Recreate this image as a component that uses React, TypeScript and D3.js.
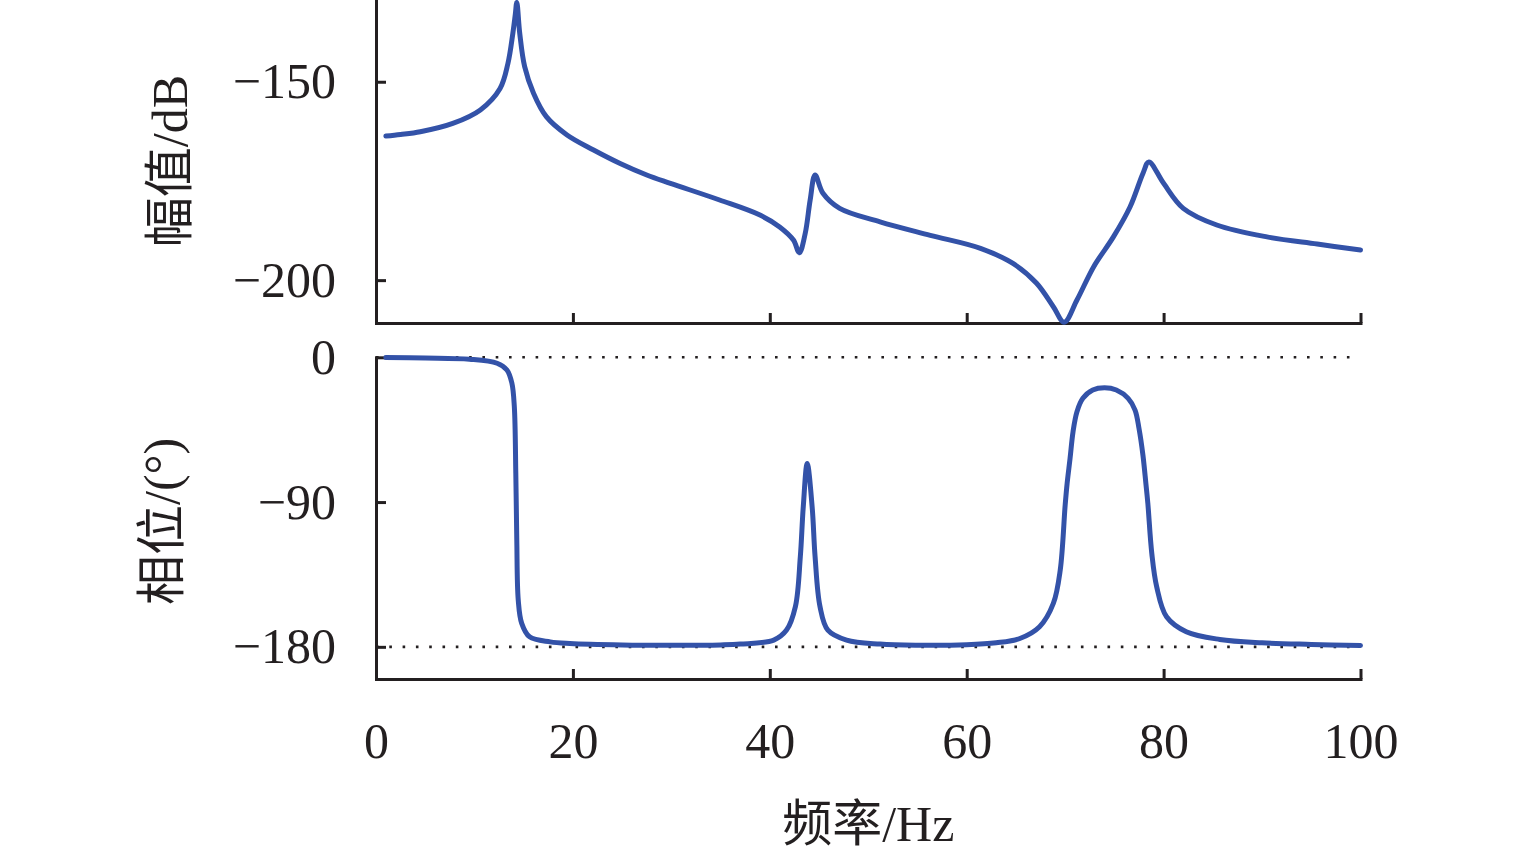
import React, { useEffect, useRef } from "react";
import * as d3 from "d3";

// Frequency axis
const xTicks = [0, 20, 40, 60, 80, 100];

// Magnitude response (top panel)
const magFreq = [1.0, 2.5, 4.5, 7.8, 10.6, 12.6, 13.4, 13.9, 14.15, 14.3, 14.6, 15.1, 16.0, 17.3, 19.4, 22.1, 24.8, 27.5, 29.9, 34.9, 39.0, 41.0, 42.4, 43.0, 43.6, 44.1, 44.6, 45.4, 47.1, 51.2, 56.3, 61.4, 64.7, 67.1, 68.8, 69.9, 71.2, 72.9, 74.9, 76.6, 77.9, 78.5, 80.0, 82.0, 85.4, 90.5, 95.6, 100];
const magDb = [-163.7, -163.3, -162.6, -160.5, -157.1, -151.7, -145.4, -137.8, -133.0, -130.0, -137.8, -146.2, -152.9, -158.8, -163.4, -167.2, -170.6, -173.5, -175.6, -179.8, -183.6, -186.6, -189.9, -193.1, -188.2, -179.8, -173.5, -178.1, -181.9, -185.3, -188.7, -192.0, -195.8, -200.8, -206.7, -210.6, -205.0, -196.6, -189.1, -181.5, -173.1, -170.2, -175.6, -181.9, -186.1, -189.1, -190.9, -192.4];
const magTicks = [-150, -200];

// Phase response (bottom panel)
const phaseFreq = [1.0, 5, 9.5, 12.3, 13.3, 13.8, 14.05, 14.2, 14.3, 14.45, 14.8, 15.6, 17.7, 19.7, 25, 30, 35, 37, 40.4, 41.7, 42.6, 43.1, 43.4, 43.8, 44.3, 44.6, 45.1, 45.9, 47.8, 51.2, 55, 60, 63, 65.4, 67.4, 68.8, 69.5, 70.0, 70.2, 70.5, 70.8, 71.2, 71.8, 72.8, 74.0, 75.2, 76.4, 77.1, 77.5, 77.9, 78.2, 78.4, 78.8, 79.3, 80.3, 82.3, 85.7, 90, 95, 100];
const phaseDeg = [-0.2, -0.5, -1.2, -3.7, -7.9, -16, -30.7, -72, -113.6, -151, -165.4, -173.8, -176.9, -177.9, -178.8, -179.0, -178.8, -178.3, -175.8, -169.6, -155, -124, -92.9, -66, -92.9, -124, -155, -169.6, -175.8, -178.3, -179.0, -178.7, -177.5, -174.8, -167.5, -153, -132.3, -92, -78.4, -62.8, -46.3, -33.8, -25.5, -20.3, -18.9, -20.3, -25.5, -32.8, -44.2, -60.8, -78.4, -90.8, -121.9, -142.7, -161.3, -170.6, -175.4, -177.5, -178.5, -179.2];
const phaseTicks = [0, -90, -180];
const phaseRefLines = [0, -180];

const labels = { mag: "幅值/dB", phase: "相位/(°)", freq: "频率/Hz" };

const W = 1535;
const H = 858;
const AXIS = "#231f20";
const LINE = "#3352a8";
const FONT = "'Liberation Serif', 'Times New Roman', 'Noto Sans CJK SC', serif";

export default function App() {
  const ref = useRef<SVGSVGElement | null>(null);

  useEffect(() => {
    const svg = d3.select(ref.current);
    svg.selectAll("*").remove();

    const x = d3.scaleLinear().domain([0, 100]).range([376, 1360.5]);
    const yMag = d3.scaleLinear().domain([-210.8, -129.4]).range([323, 0]);
    const yPh = d3.scaleLinear().domain([-200, 0]).range([679, 357.3]);

    const styleAxis = (g: any) => {
      g.attr("font-family", FONT).attr("font-size", 50);
      g.select(".domain").attr("stroke", AXIS).attr("stroke-width", 3).attr("stroke-linecap", "square");
      g.selectAll(".tick line").attr("stroke", AXIS).attr("stroke-width", 3);
      g.selectAll(".tick text").attr("fill", AXIS);
    };

    // Top panel axes
    const topLeft = svg.append("g").attr("transform", `translate(${x(0)},0)`)
      .call(d3.axisLeft(yMag).tickValues(magTicks).tickSizeInner(-10).tickSizeOuter(0).tickPadding(40));
    styleAxis(topLeft);
    const topBottom = svg.append("g").attr("transform", `translate(0,${yMag(-210.8)})`)
      .call(d3.axisBottom(x).tickValues(xTicks).tickSizeInner(-10).tickSizeOuter(0).tickFormat(() => ""));
    styleAxis(topBottom);

    // Bottom panel dotted reference lines
    svg.append("g").selectAll("line").data(phaseRefLines).join("line")
      .attr("x1", x(0)).attr("x2", x(99.5))
      .attr("y1", (d) => yPh(d)).attr("y2", (d) => yPh(d))
      .attr("stroke", AXIS).attr("stroke-width", 2.6).attr("stroke-dasharray", "2.6 10.7");

    // Bottom panel axes
    const botLeft = svg.append("g").attr("transform", `translate(${x(0)},0)`)
      .call(d3.axisLeft(yPh).tickValues(phaseTicks).tickSizeInner(-10).tickSizeOuter(0).tickPadding(40));
    styleAxis(botLeft);
    const botBottom = svg.append("g").attr("transform", `translate(0,${yPh(-200)})`)
      .call(d3.axisBottom(x).tickValues(xTicks).tickSizeInner(-10).tickSizeOuter(0).tickPadding(43));
    styleAxis(botBottom);

    // Curves
    const magData = magFreq.map((f, i) => [f, magDb[i]] as [number, number]);
    const phData = phaseFreq.map((f, i) => [f, phaseDeg[i]] as [number, number]);
    const curve = d3.curveCatmullRom.alpha(0.5);
    const magLine = d3.line<[number, number]>().x((d) => x(d[0])).y((d) => yMag(d[1])).curve(curve);
    const phLine = d3.line<[number, number]>().x((d) => x(d[0])).y((d) => yPh(d[1])).curve(curve);

    svg.append("path").datum(magData).attr("d", magLine as any)
      .attr("fill", "none").attr("stroke", LINE).attr("stroke-width", 5)
      .attr("stroke-linecap", "round").attr("stroke-linejoin", "round");
    svg.append("path").datum(phData).attr("d", phLine as any)
      .attr("fill", "none").attr("stroke", LINE).attr("stroke-width", 5)
      .attr("stroke-linecap", "round").attr("stroke-linejoin", "round");

    // Axis titles
    svg.append("text").text(labels.mag)
      .attr("transform", `translate(170,${yMag(-170)}) rotate(-90)`)
      .attr("text-anchor", "middle").attr("dominant-baseline", "central")
      .attr("font-family", FONT).attr("font-size", 50).attr("fill", AXIS);
    svg.append("text").text(labels.phase)
      .attr("transform", `translate(162,${yPh(-102)}) rotate(-90)`)
      .attr("text-anchor", "middle").attr("dominant-baseline", "central")
      .attr("font-family", FONT).attr("font-size", 50).attr("fill", AXIS);
    svg.append("text").text(labels.freq)
      .attr("x", x(50)).attr("y", 841)
      .attr("text-anchor", "middle")
      .attr("font-family", FONT).attr("font-size", 50).attr("fill", AXIS);
  }, []);

  return (
    <svg
      ref={ref}
      width={W}
      height={H}
      style={{ position: "fixed", left: 0, top: 0, background: "#fff" }}
    />
  );
}
